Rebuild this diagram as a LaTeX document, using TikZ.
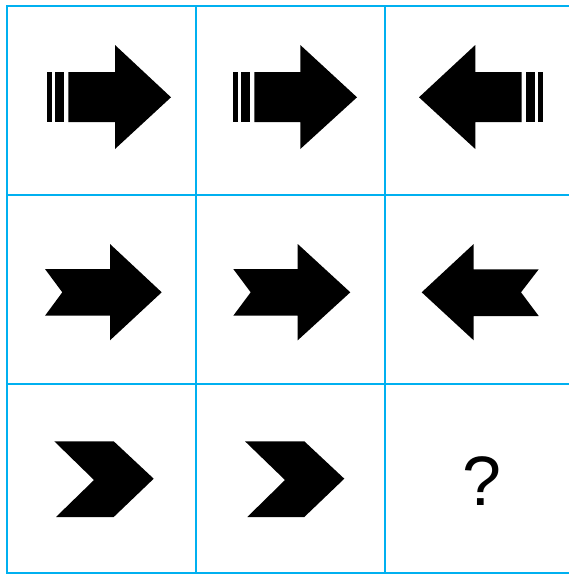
\documentclass[tikz,border=0pt]{standalone}
\usepackage{fontspec}
\setmainfont{Liberation Sans}
\definecolor{gridblue}{RGB}{0,176,240}
\begin{document}
\begin{tikzpicture}[x=1pt,y=-1pt,
  gridline/.style={draw=gridblue,line width=2pt},
  shapefill/.style={fill=black,draw=none}]
\useasboundingbox (0,0) rectangle (569,574);
% grid
\foreach \yy in {6,194.5,383.5,572.5}{\draw[gridline] (7,\yy) -- (570,\yy);}
\foreach \xx in {7,196,385}{\draw[gridline] (\xx,5) -- (\xx,573.5);}
% row 1
\fill[shapefill] (47,72) rectangle (52,122);
\fill[shapefill] (55,72) rectangle (63.7,122);
\fill[shapefill] (68.3,72) -- (115,72) -- (115,45) -- (171,97.3) -- (115,149) -- (115,122) -- (68.3,122) -- cycle;
\fill[shapefill] (233,72) rectangle (238,122);
\fill[shapefill] (241,72) rectangle (250,122);
\fill[shapefill] (254.3,72) -- (300.3,72) -- (300.3,45) -- (357,97.3) -- (300.3,149) -- (300.3,122) -- (254.3,122) -- cycle;
\fill[shapefill] (538.3,72) rectangle (542.7,122);
\fill[shapefill] (526,72) rectangle (535,122);
\fill[shapefill] (521.7,72) -- (475.3,72) -- (475.3,45) -- (419,97.3) -- (475.3,149) -- (475.3,122) -- (521.7,122) -- cycle;
% row 2
\fill[shapefill] (45,269) -- (110,269) -- (110,244) -- (161.7,292.3) -- (110,340.3) -- (110,315.7) -- (45,315.7) -- (62.3,292.3) -- cycle;
\fill[shapefill] (233.3,269) -- (297.7,269) -- (297.7,244) -- (350.3,292.3) -- (297.7,340.3) -- (297.7,315.7) -- (233.3,315.7) -- (250.7,292.3) -- cycle;
\fill[shapefill] (538.7,269.3) -- (473.7,269.3) -- (473.7,244) -- (421.7,292.3) -- (473.7,340.3) -- (473.7,316) -- (538.7,316) -- (521,292.3) -- cycle;
% row 3
\fill[shapefill] (54.3,441.3) -- (113.7,441.3) -- (153.7,478.7) -- (113.7,517) -- (56,517) -- (94,480) -- cycle;
\fill[shapefill] (245,441.3) -- (304.3,441.3) -- (344.3,478.7) -- (304.3,517) -- (247.3,517) -- (285,480) -- cycle;
\node[inner sep=0pt,anchor=base,font=\fontsize{70}{84}\selectfont] (q) at (481.7,505) {?};
\end{tikzpicture}
\end{document}
